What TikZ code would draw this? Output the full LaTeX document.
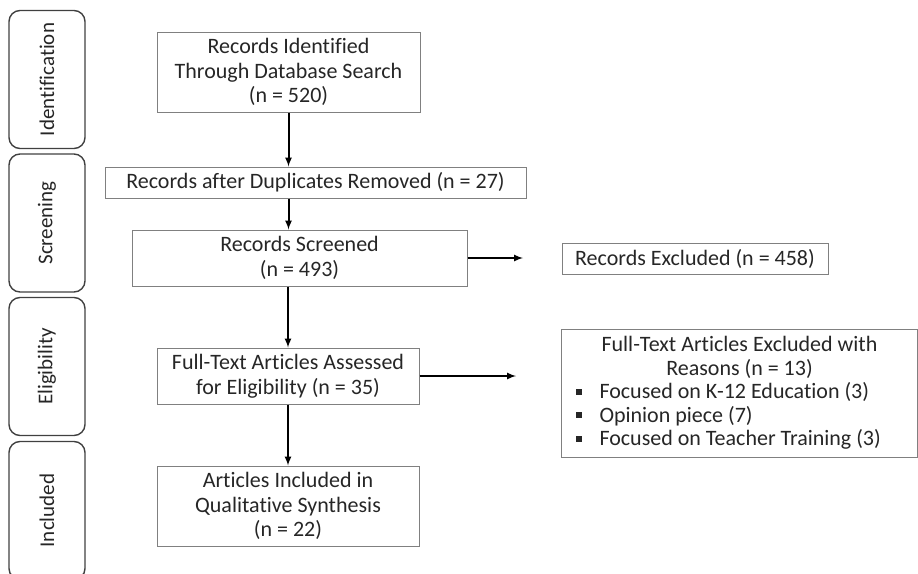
\documentclass[tikz,border=0pt]{standalone}
\usepackage{fontspec}
\setmainfont{Carlito}[Ligatures={NoCommon}]
\usetikzlibrary{positioning}
\usetikzlibrary{shapes}
\newcommand{\sqbul}{\rule[4pt]{6pt}{6pt}\hspace{18pt}}

\begin{document}
\begin{tikzpicture}[x=1pt,y=-1pt,
    stagebox/.style={shape=rectangle,draw=black!75,line width=1.4pt,rounded corners=11pt,
        rotate=90,minimum width=138pt,minimum height=76pt,inner sep=0pt,text=black!85,
        font=\fontsize{21}{24}\selectfont},
    flowbox/.style={shape=rectangle,draw=black!50,line width=1pt,inner sep=0pt,align=center,
        text=black!85,font=\fontsize{22}{24.5}\selectfont},
    flowarrow/.style={-latex,line width=2pt,black}]
    \useasboundingbox (0,0) rectangle (918,573);

    \node[stagebox] (ident) at (47,79.5) {Identification};
    \node[stagebox] (screen) at (47,223) {Screening};
    \node[stagebox] (elig) at (47,366.5) {Eligibility};
    \node[stagebox] (incl) at (47,510.5) {Included};

    \node[flowbox,minimum width=263pt,minimum height=80pt] (found) at (288.5,72) {Records Identified\\Through Database Search\\(n = 520)};
    \node[flowbox,minimum width=421pt,minimum height=31pt] (dupes) at (315.5,182.5) {Records after Duplicates Removed (n = 27)};
    \node[flowbox,minimum width=335pt,minimum height=56pt] (screened) at (299.5,258) {Records Screened\\(n = 493)};
    \node[flowbox,minimum width=262pt,minimum height=56pt] (fulltext) at (288,376) {Full-Text Articles Assessed\\for Eligibility (n = 35)};
    \node[flowbox,minimum width=262pt,minimum height=80pt] (synth) at (288,506) {Articles Included in\\Qualitative Synthesis\\(n = 22)};

    \node[flowbox,minimum width=266pt,minimum height=31pt] (excl) at (695,258.5) {Records Excluded (n = 458)};
    \node[flowbox,minimum height=128pt,text width=340pt,inner xsep=8pt,align=none,
          font=\fontsize{22}{23.5}\selectfont] (reasons) at (739.5,393)
        {{\centering Full-Text Articles Excluded with\\Reasons (n = 13)\par}
         \raggedright
         \hspace*{6pt}\sqbul Focused on K-12 Education (3)\\
         \hspace*{6pt}\sqbul Opinion piece (7)\\
         \hspace*{6pt}\sqbul Focused on Teacher Training (3)};

    \coordinate (exclEnd) at (523,258);
    \coordinate (reasonsEnd) at (516,376);

    \draw[flowarrow] (found.south) -- (found.south |- dupes.north);
    \draw[flowarrow] (found.south |- dupes.south) -- (found.south |- screened.north);
    \draw[flowarrow] (fulltext.north |- screened.south) -- (fulltext.north);
    \draw[flowarrow] (fulltext.south) -- (synth.north);
    \draw[flowarrow] (screened.east) -- (exclEnd);
    \draw[flowarrow] (fulltext.east) -- (reasonsEnd);
\end{tikzpicture}
\end{document}
